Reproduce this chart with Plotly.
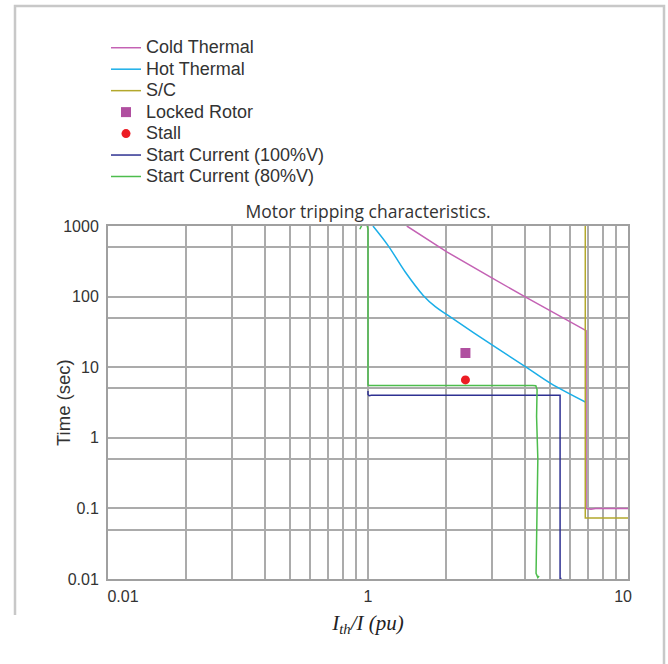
import plotly.graph_objects as go

# ---------------- data ----------------
cold_x = [1.41, 2.01, 2.96, 4.04, 6.9, 6.9, 7.2, 7.5, 10]
cold_y = [1000, 430, 189, 98, 33, 0.1, 0.097, 0.1, 0.1]

hot_x = [1.045, 1.195, 1.389, 1.631, 1.815, 2.019, 3.04, 4.11, 5.04, 6.88]
hot_y = [1000, 528, 225, 104, 72, 55, 20, 9.7, 5.9, 3.19]

sc_x = [6.85, 6.85, 10]
sc_y = [1000, 0.073, 0.073]

locked_x = [2.37]
locked_y = [15.9]

stall_x = [2.37]
stall_y = [6.6]

start100_x = [1.0, 1.0, 1.01, 1.03, 5.48, 5.48, 5.55]
start100_y = [4.6, 4.1, 3.95, 4.0, 4.0, 0.0102, 0.0102]

start80_x = [0.93, 0.95, 0.99, 1.0, 1.0, 1.01, 4.3, 4.42, 4.47, 4.45, 4.5, 4.45, 4.43, 4.5, 4.55]
start80_y = [900, 1050, 1050, 900, 5.6, 5.5, 5.5, 5.45, 4.8, 2.0, 0.5, 0.05, 0.012, 0.0105, 0.011]

x_tick_vals = [0.1142, 1, 9.57]
x_tick_text = ["0.01", "1", "10"]
y_tick_vals = [0.01, 0.1, 1, 10, 100, 1000]
y_tick_text = ["0.01", "0.1", "1", "10", "100", "1000"]
x_grid_vals = [k * 10 ** d for d in (-1, 0) for k in range(1, 10)] + [10]
y_grid_vals = [1 * 10 ** d for d in range(-2, 4)] + [5 * 10 ** d for d in range(-2, 3)]

SANS = "Liberation Sans, Arial, sans-serif"


def lg(name):
    return f'<span style="font-size:18px">{name}</span>'


# ---------------- figure ----------------
fig = go.Figure()
fig.add_trace(go.Scatter(x=cold_x, y=cold_y, mode="lines", name=lg("Cold Thermal"),
                         line=dict(color="#c462b4", width=1.5)))
fig.add_trace(go.Scatter(x=hot_x, y=hot_y, mode="lines", name=lg("Hot Thermal"),
                         line=dict(color="#1aaee8", width=1.5, shape="spline", smoothing=1.0)))
fig.add_trace(go.Scatter(x=sc_x, y=sc_y, mode="lines", name=lg("S/C"),
                         line=dict(color="#b3a82c", width=1.5)))
fig.add_trace(go.Scatter(x=locked_x, y=locked_y, mode="markers", name=lg("Locked Rotor"),
                         marker=dict(symbol="square", size=10, color="#b04fa0")))
fig.add_trace(go.Scatter(x=stall_x, y=stall_y, mode="markers", name=lg("Stall"),
                         marker=dict(symbol="circle", size=9, color="#ec1c24")))
fig.add_trace(go.Scatter(x=start100_x, y=start100_y, mode="lines", name=lg("Start Current (100%V)"),
                         line=dict(color="#2e3192", width=1.5)))
fig.add_trace(go.Scatter(x=start80_x, y=start80_y, mode="lines", name=lg("Start Current (80%V)"),
                         line=dict(color="#4dbd4d", width=1.5)))

W, H = 668, 664
L, R, T, B = 108, 40, 226, 85
pw, ph = W - L - R, H - T - B


def px_x(p):
    return (p - L) / pw


def px_y(p):
    return (H - B - p) / ph


grid_col = "#ababab"
fig.update_layout(
    width=W, height=H,
    margin=dict(l=L, r=R, t=T, b=B, autoexpand=False),
    paper_bgcolor="white", plot_bgcolor="white",
    font=dict(family=SANS, color="#333333"),
    title=dict(text="Motor tripping characteristics.", x=0.5, xref="paper", xanchor="center",
               y=1 - 212 / H, yref="container", yanchor="middle",
               font=dict(family="Open Sans", size=17.5, color="#333333")),
    showlegend=True,
    legend=dict(x=px_x(106), y=px_y(32), xanchor="left", yanchor="top",
                font=dict(family=SANS, size=14.2, color="#333333"),
                bgcolor="rgba(0,0,0,0)", tracegroupgap=0, itemwidth=30),
    xaxis=dict(type="log", range=[-1, 1], tickvals=x_tick_vals, ticktext=x_tick_text,
               showgrid=False, ticks="", zeroline=False, automargin=False,
               minor=dict(tickvals=x_grid_vals, showgrid=True, gridcolor=grid_col, gridwidth=1.5, ticks=""),
               showline=True, mirror=True, linecolor="#a0a0a0", linewidth=2,
               tickfont=dict(family=SANS, size=16, color="#333333"), ticklabelstandoff=2,
               title=dict(text="<i>I<sub>th</sub>/I (pu)</i>", standoff=11,
                          font=dict(family="Liberation Serif", size=21, color="#222222"))),
    yaxis=dict(type="log", range=[-2, 3], tickvals=y_tick_vals, ticktext=y_tick_text,
               showgrid=False, ticks="", zeroline=False, automargin=False,
               minor=dict(tickvals=y_grid_vals, showgrid=True, gridcolor=grid_col, gridwidth=1.5, ticks=""),
               showline=True, mirror=True, linecolor="#a0a0a0", linewidth=2,
               tickfont=dict(family=SANS, size=16, color="#333333"), ticklabelstandoff=4),
)

# y-axis title placed exactly where the reference has it
fig.add_annotation(text="Time (sec)", textangle=-90, xref="paper", yref="paper",
                   x=px_x(63), y=px_y(403), xanchor="center", yanchor="middle", showarrow=False,
                   font=dict(family=SANS, size=18.5, color="#333333"))

# outer light-grey frame around the figure
x0, x1 = px_x(15), px_x(664)
yt, yb1, yb2 = px_y(6), px_y(615), px_y(664)
fig.add_shape(type="path", xref="paper", yref="paper",
              path=f"M {x0},{yb1} L {x0},{yt} L {x1},{yt} L {x1},{yb2}",
              line=dict(color="#c8c8c8", width=2.5), layer="above")

fig.write_html("out.html", config={"displayModeBar": False},
               post_script="document.body.style.margin='0';")
